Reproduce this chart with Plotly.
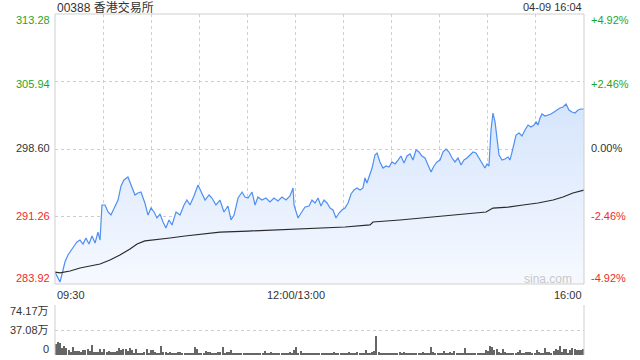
import numpy as np
import plotly.graph_objects as go

# ---------------- data ----------------
title_text = "00388 香港交易所"
stamp_text = "04-09 16:04"
prev_close = 298.60
price_ticks = [313.28, 305.94, 298.60, 291.26, 283.92]
pct_ticks = ["+4.92%", "+2.46%", "0.00%", "-2.46%", "-4.92%"]
time_labels = ["09:30", "12:00/13:00", "16:00"]
vol_ticks = ["74.17万", "37.08万", "0"]
vol_max = 74.17

# minutes since open (09:30; 12:00/13:00 at 150, 16:00 at 330)
price_min = [0, 1.2, 3.1, 4.4, 6.2, 8.1, 10, 11.9, 13.7, 15.6, 17.5, 19.3, 21.2, 23.1, 25, 26.8,
             28.1, 29.3, 31.2, 33.1, 34.9, 36.8, 39.3, 41.2, 43, 45.5, 47.4, 49.9, 51.8, 53.6,
             56.1, 58, 59.9, 61.8, 63.6, 65.5, 67.4, 69.2, 71.1, 73, 75.5, 78, 80.5, 82.3, 84.2,
             86.7, 89.2, 91.1, 93.6, 96.1, 97.9, 100.4, 102.9, 105.4, 107.9, 109.8, 111.7, 114.2,
             116.7, 118.5, 120.4, 122.9, 124.8, 126.6, 129.1, 131.6, 134.1, 136.6, 139.1, 141.6,
             144.1, 146.6, 148.5, 149.1, 150.3, 151.6, 153.5, 156, 158.5, 160.3, 162.2, 164.1,
             165.9, 167.8, 169.7, 171.6, 173.4, 175.3, 177.2, 179, 180.9, 182.8, 184.7, 186.5,
             188.4, 190.3, 192.1, 193.4, 194.6, 195.9, 197.8, 199.6, 200.9, 202.7, 204.6, 206.5,
             208.4, 210.2, 212.1, 214, 215.8, 217.7, 219.6, 221.5, 223.3, 225.2, 227.1, 228.9,
             230.8, 232.7, 234.6, 236.4, 238.3, 240.2, 242, 243.9, 245.8, 247.7, 249.5, 251.4,
             253.3, 255.1, 257, 258.9, 260.8, 262.6, 264.5, 266.4, 268.2, 269.5, 270.7, 272,
             273.2, 274.5, 275.7, 277, 278.9, 280.7, 282.6, 283.8, 285.1, 286.3, 287.6, 289.5,
             291.3, 293.2, 295.1, 296.9, 298.8, 300.1, 301.3, 302.6, 303.8, 305.7, 307.5, 309.4,
             311.3, 313.2, 315, 316.9, 318.8, 320.6, 322.5, 324.4, 326.3, 328.1, 330]
price_val = [285.22, 284.79, 284.14, 285.01, 286.31, 287.07, 287.62, 288.05, 288.49, 288.70,
             288.27, 288.92, 288.27, 289.14, 288.38, 289.57, 288.70, 292.51, 292.51, 291.75,
             291.42, 292.08, 293.05, 294.58, 295.23, 295.56, 294.69, 293.60, 293.82, 293.92,
             292.73, 291.42, 292.18, 291.75, 291.10, 291.53, 290.66, 290.01, 290.88, 290.34,
             291.75, 291.42, 292.51, 293.05, 292.51, 293.49, 294.69, 293.92, 293.05, 293.60,
             293.27, 292.51, 293.05, 291.75, 292.40, 290.88, 291.42, 293.27, 293.92, 293.38,
             293.27, 293.92, 292.51, 293.38, 293.05, 293.27, 292.84, 293.27, 292.95, 293.38,
             293.05, 293.49, 294.36, 292.51, 291.75, 291.10, 291.64, 292.29, 292.40, 293.05,
             292.73, 293.27, 292.40, 293.05, 292.73, 292.18, 291.97, 291.10, 291.64, 291.97,
             292.18, 292.73, 293.71, 294.14, 294.36, 294.14, 294.36, 295.45, 294.90, 295.66,
             296.53, 297.95, 298.16, 297.19, 296.53, 296.75, 296.64, 297.19, 296.97, 297.40,
             297.84, 297.08, 297.84, 298.06, 297.40, 298.49, 298.27, 297.84, 297.62, 296.86,
             296.10, 296.75, 297.19, 297.40, 298.27, 298.60, 298.27, 297.62, 297.19, 297.62,
             296.86, 297.40, 297.62, 297.95, 298.27, 298.16, 297.62, 297.19, 296.53, 296.97,
             296.75, 300.67, 302.51, 301.54, 299.58, 297.95, 297.40, 297.51, 297.73, 297.40,
             298.27, 299.03, 300.12, 300.34, 300.01, 300.67, 301.21, 300.99, 301.21, 301.54,
             301.21, 301.97, 302.41, 302.19, 302.30, 302.41, 302.62, 302.84, 303.06, 303.17,
             303.49, 302.84, 302.62, 302.51, 302.84, 302.95, 302.95]

avg_min = [0, 3.1, 9.4, 15.6, 21.8, 28.1, 34.3, 40.5, 46.8, 51.2, 56.1, 62.4, 71.7, 81.1, 90.5,
           102.9, 120.4, 134.1, 149.7, 165.3, 180.9, 196.5, 198.4, 215.2, 227.7, 240.2, 255.8,
           268.9, 273.2, 282.6, 292, 301.3, 310.7, 316.9, 323.1, 330]
avg_val = [285.22, 285.12, 285.33, 285.66, 285.88, 286.09, 286.53, 287.07, 287.73, 288.27,
           288.60, 288.70, 288.92, 289.14, 289.36, 289.57, 289.68, 289.79, 289.90, 290.01,
           290.12, 290.34, 290.66, 290.88, 291.10, 291.31, 291.53, 291.75, 292.18, 292.29,
           292.51, 292.73, 293.05, 293.38, 293.82, 294.14]

# volume in 万 shares, left to right across the session
volume = [16.3, 19.3, 17.8, 10.4, 13.3, 10.4, 7.4, 4.4, 11.9, 5.9, 5.9, 5.9, 4.4, 7.4, 7.4, 8.9,
          5.9, 14.8, 4.4, 4.4, 4.4, 8.9, 4.4, 8.9, 4.4, 5.9, 4.4, 4.4, 4.4, 5.9, 10.4, 7.4, 8.9,
          8.9, 5.9, 10.4, 7.4, 3.0, 8.9, 3.0, 1.5, 3.0, 4.4, 8.9, 3.0, 7.4, 7.4, 4.4, 3.0, 3.0,
          13.3, 4.4, 4.4, 3.0, 4.4, 1.5, 3.0, 3.0, 4.4, 4.4, 3.0,
          3.0, 3.0, 1.5, 3.0, 1.5, 11.9, 8.9, 3.0, 3.0, 3.0, 5.9, 4.4, 4.4, 3.0, 1.5, 3.0, 4.4,
          4.4, 11.9, 3.0, 4.4, 4.4, 7.4, 3.0, 3.0, 3.0, 1.5, 1.5, 3.0, 1.5, 1.5, 1.5, 1.5, 1.5,
          3.0, 1.5, 3.0, 1.5, 5.9, 1.5, 3.0, 4.4, 3.0, 3.0, 1.5, 3.0, 1.5, 1.5, 3.0, 3.0, 4.4,
          3.0, 7.4, 11.9, 3.0, 5.9, 1.5, 1.5, 3.0, 3.0, 1.5, 1.5, 1.5, 3.0, 3.0, 1.5,
          1.5, 1.5, 3.0, 1.5, 3.0, 4.4, 3.0, 1.5, 3.0, 3.0, 3.0, 3.0, 4.4, 3.0, 1.5, 3.0, 4.4,
          3.0, 1.5, 1.5, 7.4, 3.0, 3.0, 4.4, 5.9, 28.2, 4.4, 3.0, 3.0, 1.5, 3.0, 1.5, 1.5, 3.0,
          1.5, 3.0, 4.4, 3.0, 4.4, 3.0, 1.5, 3.0, 3.0, 1.5, 3.0, 1.5, 3.0, 4.4, 3.0, 3.0, 3.0,
          11.9, 4.4, 3.0, 3.0, 1.5, 3.0, 5.9, 3.0, 3.0, 4.4, 3.0, 5.9, 1.5,
          1.5, 1.5, 1.5, 10.4, 1.5, 1.5, 3.0, 1.5, 3.0, 1.5, 1.5, 1.5, 3.0, 7.4, 5.9, 13.3, 11.9,
          7.4, 8.9, 4.4, 3.0, 8.9, 4.4, 3.0, 1.5, 3.0, 1.5, 3.0, 4.4, 7.4, 1.5, 3.0, 4.4, 4.4,
          4.4, 1.5, 3.0, 7.4, 4.4, 1.5, 3.0, 10.4, 4.4, 4.4, 3.0, 5.9, 8.9, 7.4, 13.3, 4.4, 8.9,
          8.9, 3.0, 7.4, 10.4, 8.9, 7.4, 7.4, 7.4, 8.9]

# ---------------- layout helpers ----------------
W, H = 640, 360
L, R = 55, 584
MT, MB = 14, 284
VT, VB = 305, 355


def px(x):
    return x / W


def py(y):
    return 1 - y / H


FONT = "Arial, 'Liberation Sans', 'Noto Sans CJK SC', sans-serif"
GREEN = "#1fa51f"
RED = "#ee2b2b"
DARK = "#333333"

vol_x = np.linspace(0.6, 329.4, len(volume))

fig = go.Figure()

fig.add_trace(go.Scatter(
    x=price_min, y=price_val, mode="lines",
    line=dict(color="#4f8ff2", width=1.2),
    fill="tozeroy",
    fillgradient=dict(type="vertical",
                      colorscale=[[0, "rgba(246,249,255,1)"], [1, "rgba(214,229,252,1)"]],
                      start=283.92, stop=303.5),
    hoverinfo="skip", xaxis="x", yaxis="y"))

fig.add_trace(go.Scatter(
    x=avg_min, y=avg_val, mode="lines",
    line=dict(color="#2a2a2a", width=1.2),
    hoverinfo="skip", xaxis="x", yaxis="y"))

fig.add_trace(go.Bar(
    x=vol_x, y=volume, width=0.65, marker=dict(color="#666666", line=dict(width=0)),
    hoverinfo="skip", xaxis="x2", yaxis="y2"))

grid_x = list(range(30, 330, 30))

fig.update_layout(
    width=W, height=H,
    margin=dict(l=0, r=0, t=0, b=0),
    paper_bgcolor="white", plot_bgcolor="rgba(0,0,0,0)",
    showlegend=False, bargap=0,
    font=dict(family=FONT, size=11, color=DARK),
    xaxis=dict(domain=[px(L), px(R)], range=[0, 330], tickvals=grid_x,
               showticklabels=False, ticks="", showgrid=True, gridcolor="#d0d0d0",
               griddash="dot", gridwidth=1, zeroline=False, showline=False, anchor="y"),
    yaxis=dict(domain=[py(MB), py(MT)], range=[283.92, 313.28],
               tickvals=[291.26, 298.60, 305.94], showticklabels=False, ticks="",
               showgrid=True, gridcolor="#cccccc", griddash="dot", gridwidth=1,
               zeroline=False, showline=False, anchor="x"),
    xaxis2=dict(domain=[px(L), px(R)], range=[0, 330], showticklabels=False, ticks="",
                showgrid=False, zeroline=False, showline=False, anchor="y2"),
    yaxis2=dict(domain=[py(VB), py(VT)], range=[0, vol_max], tickvals=[37.08, 74.17],
                showticklabels=False, ticks="", showgrid=True, gridcolor="#cccccc",
                griddash="dot", gridwidth=1, zeroline=False, showline=False, anchor="x2"),
)

shapes = [
    dict(type="rect", xref="paper", yref="paper", x0=px(L), x1=px(R), y0=py(MB), y1=py(MT),
         line=dict(color="#cfcfcf", width=1)),
    dict(type="line", xref="paper", yref="paper", x0=px(L), x1=px(L), y0=py(VB), y1=py(VT),
         line=dict(color="#cfcfcf", width=1)),
    dict(type="line", xref="paper", yref="paper", x0=px(R), x1=px(R), y0=py(VB), y1=py(VT),
         line=dict(color="#cfcfcf", width=1)),
]
fig.update_layout(shapes=shapes)

ann = []


def add_text(text, x, y, xanchor, color=DARK, size=11):
    ann.append(dict(text=text, x=px(x), y=py(y), xref="paper", yref="paper",
                    xanchor=xanchor, yanchor="middle", showarrow=False,
                    font=dict(family=FONT, size=size, color=color)))


add_text(title_text, L, 7, "left", DARK, 12)
add_text(stamp_text, R, 7, "right", DARK, 11)

left_y = [20, 84, 148, 216, 278]
colors = [GREEN, GREEN, DARK, RED, RED]
for val, yy, c in zip(price_ticks, left_y, colors):
    add_text(f"{val:.2f}", 52, yy, "right", c)
for t, yy, c in zip(pct_ticks, left_y, colors):
    add_text(t, 589, yy, "left", c)

add_text(time_labels[0], L, 295, "left")
add_text(time_labels[1], 296, 295, "center")
add_text(time_labels[2], R, 295, "right")

for t, yy in zip(vol_ticks, [311, 330, 349]):
    add_text(t, 51, yy, "right")

add_text("sina.com", 574, 279, "right", "#c8c8c8", 12)

fig.update_layout(annotations=ann)

fig.write_html("out.html")
